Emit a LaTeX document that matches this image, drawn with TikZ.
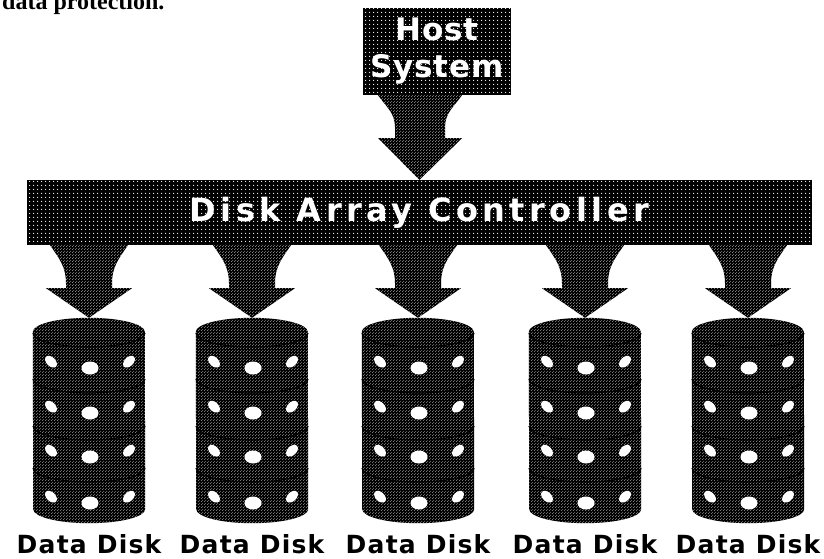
\documentclass[tikz,border=0pt]{standalone}
\usepackage{fontspec}
\setmainfont{Liberation Serif}
\newfontfamily\heavyfont{DejaVu Sans}
\usetikzlibrary{calc,patterns.meta}

% stipple fills
\tikzdeclarepattern{
  name=sparsedots, type=uncolored,
  bottom left={(0pt,0pt)}, top right={(4pt,4pt)},
  tile size={(4pt,4pt)},
  code={\fill (2pt,2pt) circle (0.75pt);}
}
\tikzdeclarepattern{
  name=densedots, type=uncolored,
  bottom left={(0pt,0pt)}, top right={(3pt,3pt)},
  tile size={(3pt,3pt)},
  code={\fill (0.75pt,0.75pt) circle (0.65pt); \fill (2.25pt,2.25pt) circle (0.65pt);}
}

% fat funnel arrow: from, to, top half width, stem half width,
% neck depth, shoulder depth, head half width
\newcommand{\fatarrow}[7]{%
  \path[arrowfill] let \p1=(#1), \p2=(#2) in
    ({\x1-#3pt},\y1) to[out=-55,in=90] ({\x1-#4pt},{\y1-#5pt})
    -- ({\x1-#4pt},{\y1-#6pt}) -- ({\x1-#7pt},{\y1-#6pt}) -- (\x2,\y2)
    -- ({\x1+#7pt},{\y1-#6pt}) -- ({\x1+#4pt},{\y1-#6pt})
    -- ({\x1+#4pt},{\y1-#5pt}) to[out=90,in=-125] ({\x1+#3pt},\y1) -- cycle;}

\begin{document}
\begin{tikzpicture}[x=1pt, y=1pt,
    boxfill/.style={preaction={fill=black}, pattern=sparsedots, pattern color=white,
                    inner sep=0pt, text=white, align=center},
    arrowfill/.style={preaction={fill=black}, pattern=densedots, pattern color=white!70!black},
    diskfill/.style={preaction={fill=black}, pattern=densedots, pattern color=white!65!black},
    diskbox/.style={minimum width=112pt, minimum height=205pt, inner sep=0pt},
    seam/.style={draw=black, line width=1.2pt},
    disklabel/.style={inner sep=0pt, font=\heavyfont\bfseries\fontsize{25}{25}\selectfont\addfontfeatures{LetterSpace=5}}]

  \useasboundingbox (0,0) rectangle (824,558);

  % ---- caption line above ----
  \node[anchor=base west, inner sep=0pt, font=\fontsize{24}{24}\selectfont\bfseries] (caption)
    at (2,548.5) {data protection.};

  % ---- host and controller ----
  \node[boxfill, minimum width=148pt, minimum height=87pt,
        font=\heavyfont\bfseries\fontsize{31}{37}\selectfont\addfontfeatures{LetterSpace=3}]
    (host) at (437,506.5) {Host\\System};
  \node[boxfill, minimum width=785pt, minimum height=65pt,
        font=\heavyfont\bfseries\fontsize{32}{32}\selectfont\addfontfeatures{LetterSpace=14}]
    (ctrl) at (419.5,345.5) {Disk Array Controller};

  \fatarrow{[xshift=-17pt]host.south}{ctrl.north}{42}{25}{32}{43}{42}

  % ---- disks ----
  \foreach \i/\x in {1/89, 2/252, 3/418, 4/585, 5/748} {
    \node[diskbox] (disk\i) at (\x,137.5) {};
    \path[diskfill] (disk\i.north west) ++(0,-14)
      arc[start angle=180, end angle=0, x radius=56, y radius=14]
      -- ([yshift=14pt]disk\i.south east)
      arc[start angle=0, end angle=-180, x radius=56, y radius=14] -- cycle;
    \foreach \dy in {73.5, 27.5, -19.5, -61.5}
      \draw[seam] ({\x-56},{151.5+(\dy)})
        arc[start angle=180, end angle=360, x radius=56, y radius=14];
    \foreach \dy in {52.5, 7.5, -36.5, -82.5} {
      \fill[white] ({\x+1},{137.5+(\dy)}) ellipse[x radius=8.5, y radius=6.5];
      \fill[white, rotate around={-45:({\x-38},{143.8+(\dy)})}]
        ({\x-38},{143.8+(\dy)}) ellipse[x radius=7, y radius=4.5];
      \fill[white, rotate around={45:({\x+40},{143.8+(\dy)})}]
        ({\x+40},{143.8+(\dy)}) ellipse[x radius=7, y radius=4.5];
    }
    \node[disklabel, anchor=base] (label\i) at ([yshift=-30pt]disk\i.south) {Data Disk};
    \fatarrow{ctrl.south -| disk\i.north}{disk\i.north}{39}{23}{38}{43}{43}
  }

\end{tikzpicture}
\end{document}
